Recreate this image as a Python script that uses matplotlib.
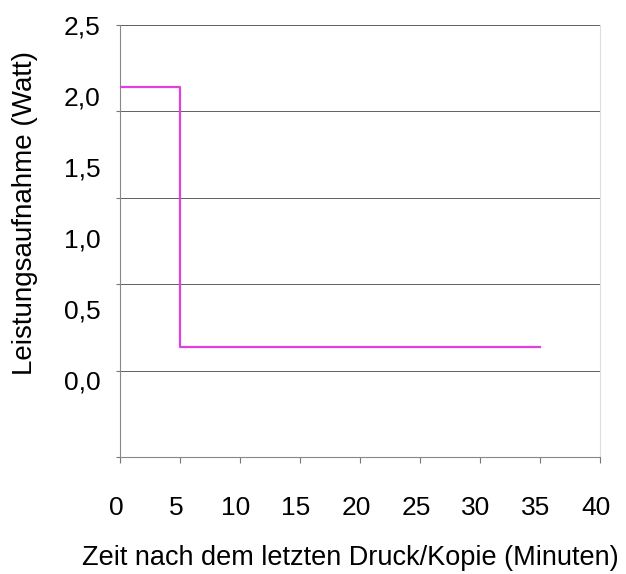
""" Leistungsaufnahme nach dem letzten Druck """

import matplotlib.pyplot as plt
from matplotlib.ticker import FixedLocator
from matplotlib.transforms import ScaledTranslation

#-- Daten
minuten = [0, 5, 35]
watt = [2.06, 0.23, 0.23]
x_ticks = [0, 5, 10, 15, 20, 25, 30, 35, 40]
y_ticks = [0.0, 0.5, 1.0, 1.5, 2.0, 2.5]
y_labels = ['0,0', '0,5', '1,0', '1,5', '2,0', '2,5']

plt.rcParams['font.family'] = ['Liberation Sans', 'DejaVu Sans']

fig = plt.figure(figsize=(6.26, 5.74), dpi=100)
rect = [120 / 626, 117 / 574, 480 / 626, 432 / 574]

#-- Gitterlinien-Achse (0 bis 2,5 ueber die volle Hoehe)
ax = fig.add_axes(rect)
ax.set_xlim(0, 40)
ax.set_ylim(0, 2.5)
ax.yaxis.set_major_locator(FixedLocator(y_ticks))
ax.set_yticklabels([])
ax.grid(axis='y', color='#606060', linewidth=0.7)
ax.set_xticks(x_ticks)
ax.set_xticklabels([str(t) for t in x_ticks], fontsize=19)
ax.tick_params(axis='x', length=4, width=0.8, color='#777777', pad=24)
ax.tick_params(axis='y', length=3, width=0.8, color='#777777')
# Beschriftungen leicht nach links versetzt wie im Original
shift = ScaledTranslation(-4 / 100, 0, fig.dpi_scale_trans)
for lab in ax.get_xticklabels():
    lab.set_transform(lab.get_transform() + shift)
ax.spines['top'].set_visible(False)
ax.spines['right'].set_color('#dddddd')
ax.spines['left'].set_color('#888888')
ax.spines['bottom'].set_color('#888888')
ax.set_xlabel('Zeit nach dem letzten Druck/Kopie (Minuten)', fontsize=19.5)
ax.xaxis.set_label_coords(0.479, -0.204)

#-- Daten-Achse mit den Beschriftungen
ax2 = ax.twinx()
ax2.set_ylim(-0.542, 2.5)
ax2.yaxis.set_ticks_position('left')
ax2.yaxis.set_label_position('left')
ax2.set_yticks(y_ticks)
ax2.set_yticklabels(y_labels, fontsize=19)
ax2.tick_params(axis='y', length=0, pad=14)
for s in ax2.spines.values():
    s.set_visible(False)
ax2.set_ylabel('Leistungsaufnahme (Watt)', fontsize=20)
ax2.yaxis.set_label_coords(-0.171, 0.565)

ax2.plot(minuten, watt, drawstyle='steps-post', color='#e040e0', linewidth=1.6)

plt.savefig('out.png', dpi=100)
